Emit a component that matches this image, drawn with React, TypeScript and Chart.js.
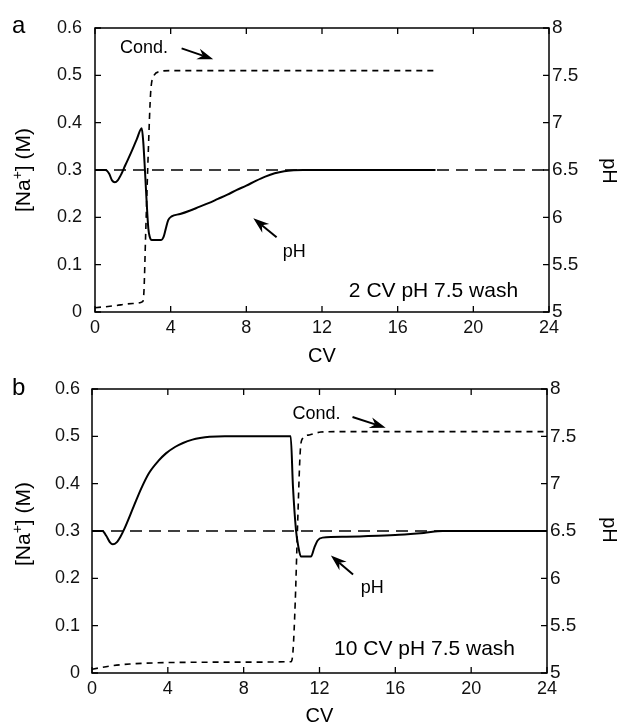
import React, { useEffect, useRef } from "react";
import { Chart, registerables } from "chart.js";

Chart.register(...registerables);

const FONT = "'Liberation Sans', Arial, Helvetica, sans-serif";

// Shared axes
const cvTicks = [0, 4, 8, 12, 16, 20, 24];
const naTicks = [0, 0.1, 0.2, 0.3, 0.4, 0.5, 0.6];
const phTicks = [5, 5.5, 6, 6.5, 7, 7.5, 8];
const refCV = [0, 24];
const refNa = [0.3, 0.3];

// Panel a: 2 CV pH 7.5 wash
const aPhCV = [0, 0.55, 0.75, 0.9, 1.05, 1.2, 1.4, 1.6, 1.9, 2.2, 2.47, 2.55, 2.64, 2.72, 2.82, 2.9, 3.0, 3.5, 3.62, 3.73, 3.87, 4.05, 4.5, 5.0, 5.5, 6.0, 6.5, 7.0, 7.5, 8.0, 8.5, 9.0, 9.5, 10.0, 10.5, 11.0, 18.0];
const aPhVal = [6.5, 6.5, 6.46, 6.39, 6.37, 6.39, 6.46, 6.55, 6.68, 6.82, 6.94, 6.8, 6.5, 6.2, 5.88, 5.79, 5.76, 5.76, 5.79, 5.87, 5.97, 6.01, 6.035, 6.07, 6.11, 6.15, 6.195, 6.24, 6.29, 6.335, 6.385, 6.43, 6.465, 6.487, 6.497, 6.5, 6.5];
const aCondCV = [0, 1, 2, 2.52, 2.59, 2.68, 2.82, 2.94, 3.08, 3.44, 3.96, 18];
const aCondNa = [0.009, 0.013, 0.018, 0.022, 0.046, 0.167, 0.342, 0.462, 0.497, 0.508, 0.51, 0.51];

// Panel b: 10 CV pH 7.5 wash
const bPhCV = [0, 0.55, 0.75, 0.95, 1.1, 1.3, 1.5, 1.7, 2.2, 2.6, 3.0, 3.5, 3.9, 4.4, 4.8, 5.3, 5.7, 6.2, 7.0, 10.48, 10.6, 10.76, 10.88, 11.02, 11.55, 11.72, 11.9, 12.16, 13.4, 15.1, 16.2, 17.5, 18.5, 24];
const bPhVal = [6.5, 6.5, 6.45, 6.38, 6.36, 6.38, 6.44, 6.52, 6.76, 6.95, 7.11, 7.24, 7.32, 7.39, 7.43, 7.465, 7.482, 7.495, 7.5, 7.5, 6.97, 6.51, 6.34, 6.23, 6.23, 6.32, 6.4, 6.43, 6.44, 6.45, 6.46, 6.48, 6.5, 6.5];
const bCondCV = [0, 1, 2, 4, 8, 10.5, 10.6, 10.72, 10.85, 10.98, 11.07, 11.46, 12.07, 13, 24];
const bCondNa = [0.008, 0.015, 0.019, 0.022, 0.023, 0.024, 0.045, 0.15, 0.32, 0.465, 0.493, 0.503, 0.509, 0.51, 0.51];

type Spec = {
  letter: string;
  letterPos: [number, number];
  height: number;
  padTop: number;
  xH: number;
  leftW: number;
  rightW: number;
  leftPad: number;
  rightPad: number;
  phCV: number[];
  phVal: number[];
  condCV: number[];
  condNa: number[];
  condText: [number, number];
  condArrow: [number, number, number, number];
  phText: [number, number];
  phArrow: [number, number, number, number];
  note: [number, number, string];
  naTitleY: number;
  phTitleY: number;
  cvBaseline: number;
};

const specA: Spec = {
  letter: "a",
  letterPos: [12, 33],
  height: 365,
  padTop: 28,
  xH: 53,
  leftW: 95,
  rightW: 72,
  leftPad: 13,
  rightPad: 3,
  phCV: aPhCV,
  phVal: aPhVal,
  condCV: aCondCV,
  condNa: aCondNa,
  condText: [1.32, 0.547],
  condArrow: [4.58, 0.557, 6.25, 0.534],
  phText: [9.92, 0.117],
  phArrow: [9.6, 0.158, 8.37, 0.198],
  note: [13.42, 0.032, "2 CV pH 7.5 wash"],
  naTitleY: 170,
  phTitleY: 171,
  cvBaseline: 362,
};

const specB: Spec = {
  letter: "b",
  letterPos: [12, 30],
  height: 362,
  padTop: 24,
  xH: 54,
  leftW: 92,
  rightW: 74,
  leftPad: 12,
  rightPad: 3,
  phCV: bPhCV,
  phVal: bPhVal,
  condCV: bCondCV,
  condNa: bCondNa,
  condText: [10.58, 0.537],
  condArrow: [13.74, 0.541, 15.49, 0.518],
  phText: [14.18, 0.17],
  phArrow: [13.77, 0.208, 12.6, 0.248],
  note: [12.77, 0.037, "10 CV pH 7.5 wash"],
  naTitleY: 159,
  phTitleY: 165,
  cvBaseline: 357,
};

function pts(xs: number[], ys: number[]) {
  return xs.map((x, i) => ({ x, y: ys[i] }));
}

function drawArrow(ctx: CanvasRenderingContext2D, x1: number, y1: number, x2: number, y2: number) {
  const ang = Math.atan2(y2 - y1, x2 - x1);
  const c = Math.cos(ang);
  const s = Math.sin(ang);
  const L = 16;
  const W = 5.5;
  const N = 11;
  ctx.beginPath();
  ctx.moveTo(x1, y1);
  ctx.lineTo(x2 - c * N, y2 - s * N);
  ctx.lineWidth = 2;
  ctx.stroke();
  ctx.beginPath();
  ctx.moveTo(x2, y2);
  ctx.lineTo(x2 - c * L - s * W, y2 - s * L + c * W);
  ctx.lineTo(x2 - c * N, y2 - s * N);
  ctx.lineTo(x2 - c * L + s * W, y2 - s * L - c * W);
  ctx.closePath();
  ctx.fill();
}

function makePlugin(spec: Spec) {
  return {
    id: "panelDecor",
    afterDraw(chart: any) {
      const ctx: CanvasRenderingContext2D = chart.ctx;
      const { left, right, top, bottom } = chart.chartArea;
      const xs = chart.scales.x;
      const yl = chart.scales.yNa;
      const yr = chart.scales.yPh;
      ctx.save();
      ctx.strokeStyle = "#000";
      ctx.fillStyle = "#000";
      // inward ticks
      ctx.lineWidth = 1.3;
      ctx.beginPath();
      cvTicks.forEach((v) => {
        const px = xs.getPixelForValue(v);
        ctx.moveTo(px, bottom);
        ctx.lineTo(px, bottom - 6);
        ctx.moveTo(px, top);
        ctx.lineTo(px, top + 6);
      });
      naTicks.forEach((v) => {
        const py = yl.getPixelForValue(v);
        ctx.moveTo(left, py);
        ctx.lineTo(left + 6, py);
      });
      phTicks.forEach((v) => {
        const py = yr.getPixelForValue(v);
        ctx.moveTo(right, py);
        ctx.lineTo(right - 6, py);
      });
      ctx.stroke();
      // frame
      ctx.lineWidth = 1.5;
      ctx.strokeRect(left, top, right - left, bottom - top);

      // annotations
      const X = (v: number) => xs.getPixelForValue(v);
      const Y = (v: number) => yl.getPixelForValue(v);
      ctx.textAlign = "left";
      ctx.textBaseline = "alphabetic";
      ctx.font = `18px ${FONT}`;
      ctx.fillText("Cond.", X(spec.condText[0]), Y(spec.condText[1]));
      ctx.fillText("pH", X(spec.phText[0]), Y(spec.phText[1]));
      const ca = spec.condArrow;
      drawArrow(ctx, X(ca[0]), Y(ca[1]), X(ca[2]), Y(ca[3]));
      const pa = spec.phArrow;
      drawArrow(ctx, X(pa[0]), Y(pa[1]), X(pa[2]), Y(pa[3]));
      ctx.font = `21px ${FONT}`;
      ctx.fillText(spec.note[2], X(spec.note[0]), Y(spec.note[1]));

      // panel letter
      ctx.font = `24px ${FONT}`;
      ctx.fillText(spec.letter, spec.letterPos[0], spec.letterPos[1]);

      // x title
      ctx.font = `20px ${FONT}`;
      ctx.textAlign = "center";
      ctx.fillText("CV", (left + right) / 2, spec.cvBaseline);

      // left title with superscript
      ctx.save();
      ctx.translate(30, spec.naTitleY);
      ctx.rotate(-Math.PI / 2);
      ctx.textAlign = "left";
      const big = `21px ${FONT}`;
      const small = `14px ${FONT}`;
      ctx.font = big;
      const w1 = ctx.measureText("[Na").width;
      const w3 = ctx.measureText("] (M)").width;
      ctx.font = small;
      const w2 = ctx.measureText("+").width;
      let x = -(w1 + w2 + w3) / 2;
      ctx.font = big;
      ctx.fillText("[Na", x, 0);
      x += w1;
      ctx.font = small;
      ctx.fillText("+", x, -8);
      x += w2;
      ctx.font = big;
      ctx.fillText("] (M)", x, 0);
      ctx.restore();

      // right title
      ctx.save();
      ctx.translate(603, spec.phTitleY);
      ctx.rotate(Math.PI / 2);
      ctx.textAlign = "center";
      ctx.font = `20px ${FONT}`;
      ctx.fillText("pH", 0, 0);
      ctx.restore();

      ctx.restore();
    },
  };
}

function Panel({ spec }: { spec: Spec }) {
  const ref = useRef<HTMLCanvasElement | null>(null);
  useEffect(() => {
    if (!ref.current) return;
    const tickFont = { family: FONT, size: 18 };
    const rightFont = { family: FONT, size: 19 };
    const chart = new Chart(ref.current, {
      type: "line",
      data: {
        datasets: [
          {
            data: pts(spec.phCV, spec.phVal),
            yAxisID: "yPh",
            borderColor: "#000",
            borderWidth: 2,
            pointRadius: 0,
            cubicInterpolationMode: "monotone",
            fill: false,
            order: 0,
          },
          {
            data: pts(spec.condCV, spec.condNa),
            yAxisID: "yNa",
            borderColor: "#000",
            borderWidth: 1.6,
            borderDash: [6, 5],
            pointRadius: 0,
            cubicInterpolationMode: "monotone",
            fill: false,
            order: 1,
          },
          {
            data: pts(refCV, refNa),
            yAxisID: "yNa",
            borderColor: "#000",
            borderWidth: 1.3,
            borderDash: [12, 7],
            pointRadius: 0,
            fill: false,
            order: 2,
          },
        ],
      },
      options: {
        animation: false,
        responsive: false,
        maintainAspectRatio: false,
        parsing: false as any,
        layout: { padding: { top: spec.padTop, left: 0, right: 0, bottom: 0 } },
        plugins: { legend: { display: false }, tooltip: { enabled: false } },
        events: [],
        scales: {
          x: {
            type: "linear",
            min: 0,
            max: 24,
            grid: { display: false, drawTicks: false },
            border: { display: false },
            ticks: {
              font: tickFont,
              color: "#111",
              padding: 5,
              autoSkip: false,
              maxRotation: 0,
              callback: (v: any) => String(v),
            },
            afterBuildTicks: (s: any) => {
              s.ticks = cvTicks.map((v) => ({ value: v }));
            },
            afterFit: (s: any) => {
              s.height = spec.xH;
            },
          },
          yNa: {
            type: "linear",
            position: "left",
            min: 0,
            max: 0.6,
            grid: { display: false, drawTicks: false },
            border: { display: false },
            ticks: {
              font: tickFont,
              color: "#111",
              padding: spec.leftPad,
              callback: (v: any) => String(v),
            },
            afterBuildTicks: (s: any) => {
              s.ticks = naTicks.map((v) => ({ value: v }));
            },
            afterFit: (s: any) => {
              s.width = spec.leftW;
            },
          },
          yPh: {
            type: "linear",
            position: "right",
            min: 5,
            max: 8,
            grid: { display: false, drawTicks: false },
            border: { display: false },
            ticks: {
              font: rightFont,
              color: "#111",
              padding: spec.rightPad,
              callback: (v: any) => String(v),
            },
            afterBuildTicks: (s: any) => {
              s.ticks = phTicks.map((v) => ({ value: v }));
            },
            afterFit: (s: any) => {
              s.width = spec.rightW;
            },
          },
        },
      } as any,
      plugins: [makePlugin(spec)],
    });
    return () => chart.destroy();
  }, [spec]);
  return (
    <canvas
      ref={ref}
      width={621}
      height={spec.height}
      style={{ display: "block", width: 621, height: spec.height }}
    />
  );
}

export default function App() {
  return (
    <div style={{ position: "absolute", left: 0, top: 0, width: 621, height: 727, background: "#fff" }}>
      <Panel spec={specA} />
      <Panel spec={specB} />
    </div>
  );
}
